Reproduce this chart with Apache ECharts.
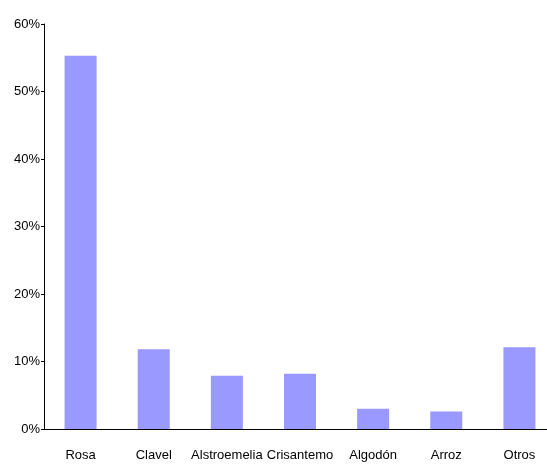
<!DOCTYPE html>
<html>
<head>
<meta charset="utf-8">
<script src="https://cdn.jsdelivr.net/npm/echarts@6/dist/echarts.min.js"></script>
<style>
  html, body { margin: 0; padding: 0; background: #fff; }
  #chart { width: 547px; height: 465px; }
</style>
</head>
<body>
<div id="chart"></div>
<script>
// categorias y porcentajes
var categorias = ['Rosa', 'Clavel', 'Alstroemelia', 'Crisantemo', 'Algodón', 'Arroz', 'Otros'];
var porcentajes = [55.3, 11.8, 7.9, 8.2, 3.0, 2.6, 12.1];
var ticksY = [0, 10, 20, 30, 40, 50, 60];

var chart = echarts.init(document.getElementById('chart'));

var option = {
    animation: false,
    grid: { left: 44, top: 24, height: 405, width: 512, outerBoundsMode: 'none', containLabel: false },
    xAxis: {
        type: 'category',
        data: categorias,
        axisLine: { lineStyle: { color: '#000', width: 1 } },
        axisTick: { alignWithLabel: false, length: 6, lineStyle: { color: '#000' } },
        axisLabel: {
            color: '#000',
            fontFamily: 'Liberation Sans',
            fontSize: 13,
            margin: 20,
            interval: 0
        }
    },
    yAxis: {
        type: 'value',
        min: ticksY[0],
        max: ticksY[ticksY.length - 1],
        interval: 10,
        splitLine: { show: false },
        axisLine: { show: true, lineStyle: { color: '#000', width: 1 } },
        axisTick: { show: true, length: 3, lineStyle: { color: '#000' } },
        axisLabel: {
            color: '#000',
            fontFamily: 'Liberation Sans',
            fontSize: 13,
            margin: 4,
            formatter: '{value}%'
        }
    },
    series: [{
        type: 'bar',
        data: porcentajes,
        barWidth: 32,
        itemStyle: { color: '#9999FF' }
    }]
};

chart.setOption(option);

window.onresize = function() {
    chart.resize();
};
</script>
</body>
</html>
